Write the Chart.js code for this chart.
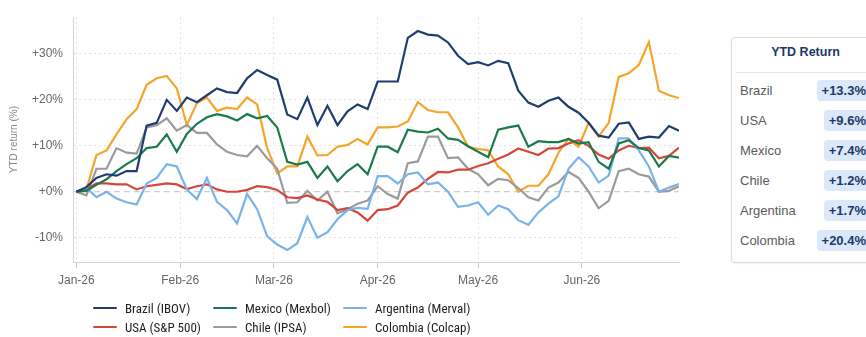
<!DOCTYPE html>
<html>
<head>
<meta charset="utf-8">
<title>LatAm equity indices YTD</title>
<script src="https://cdn.jsdelivr.net/npm/chart.js@4.4.1/dist/chart.umd.min.js"></script>
<style>
  html, body { margin: 0; padding: 0; background: #fff; }
  body {
    width: 866px; height: 337px; position: relative; overflow: hidden;
    font-family: "Liberation Sans", Arial, sans-serif;
  }
  #chartWrap { position: absolute; left: 0; top: 0; width: 700px; height: 300px; }
  #legend { position: absolute; left: 0; top: 0; }
  .lg-item {
    position: absolute; display: flex; align-items: center; white-space: nowrap;
    font-family: "Liberation Sans Narrow", "Roboto Condensed", "Liberation Sans", sans-serif;
    font-size: 13px; color: #1e1e1e; height: 18px;
  }
  .lg-swatch { width: 24px; height: 2.5px; margin-right: 8px; border-radius: 1px; }

  #ytd {
    position: absolute; left: 731px; top: 37px; width: 145px; height: 226px;
    border: 1px solid #dcdcdc; border-radius: 4px; box-sizing: border-box;
    box-shadow: 0 1px 2px rgba(0,0,0,0.06); background: #fff;
  }
  #ytd .head {
    height: 34px; line-height: 28px; text-align: center;
    font-weight: bold; font-size: 12.5px; color: #1b3a66;
    border-bottom: 1px solid #e2e2e2; margin: 0 0 0 4px;
  }
  #ytd .row {
    position: absolute; left: 8px; right: 4px; height: 21px;
    display: flex; align-items: center; justify-content: space-between;
  }
  #ytd .name { font-size: 13px; color: #5a5a5a; }
  #ytd .pill {
    background: #dbe8fa; color: #1b3a66; font-weight: bold; font-size: 13px;
    padding: 0 5px; height: 21px; line-height: 21px; border-radius: 4px;
  }
</style>
</head>
<body>
<div id="chartWrap"><canvas id="ytdChart" width="700" height="300"></canvas></div>
<div id="legend"></div>
<div id="ytd"><div class="head">YTD Return</div></div>

<script>
// x positions: days since 1 Jan 2026, sampled every 3 days
const days = [0, 3, 6, 9, 12, 15, 18, 21, 24, 27, 30, 33, 36, 39, 42, 45, 48, 51, 54, 57, 60,
  63, 66, 69, 72, 75, 78, 81, 84, 87, 90, 93, 96, 99, 102, 105, 108, 111, 114, 117, 120,
  123, 126, 129, 132, 135, 138, 141, 144, 147, 150, 153, 156, 159, 162, 165, 168, 171, 174, 177, 180];

const monthStarts = [0, 31, 59, 90, 120, 151];
const monthLabels = ['Jan-26', 'Feb-26', 'Mar-26', 'Apr-26', 'May-26', 'Jun-26'];
const yTicks = [-10, 0, 10, 20, 30];

// cumulative return in %, per index
const brazil = [0, 1, 3, 3.8, 3.5, 4.5, 4.5, 14.4, 15, 20, 17.6,
  20.5, 19.5, 21, 22.5, 21.7, 21.5, 24.7, 26.5, 25.4, 24.4,
  16.8, 15.8, 20.5, 14.5, 18.7, 14.5, 17.5, 19, 18, 24,
  24, 24, 33.5, 35, 34.2, 34, 32.5, 29.6, 27.8, 28.2,
  27.5, 28.5, 28, 22, 19.4, 18.5, 19.8, 20.5, 18.5, 17.2,
  15, 12.2, 11.8, 14.8, 15.1, 11.5, 12, 11.8, 14.3, 13.3];
const mexico = [0, 0.2, 1.5, 2.7, 4.5, 6, 7.3, 9.5, 9.8, 12.5, 8.7,
  12.6, 14.8, 16.2, 16.9, 16.4, 15.5, 16.9, 16, 16.5, 14,
  6.5, 5.9, 6.5, 3, 5.5, 2.3, 4.5, 6, 3.8, 9.8,
  9.8, 8.6, 13.5, 13.1, 12.9, 13.7, 11.6, 11.3, 9.9, 8.7,
  7.5, 13.5, 14, 14.4, 9.8, 11, 10.8, 10.8, 11.5, 10.5,
  10.8, 6.5, 5, 10.5, 11.2, 9.5, 9, 5.5, 7.8, 7.4];
const argentina = [0, 0.9, -1.2, 0, -1.5, -2.3, -2.8, 1.8, 3, 6, 5.5,
  0.5, -1.6, 3, -2.2, -4, -6.9, -0.5, -3.8, -9.7, -11.5,
  -12.7, -11.2, -5.5, -10, -8.8, -6, -4, -3.5, -3.7, 3.4,
  3.4, 1.8, 3.8, 4.2, 1.6, 2, 0, -3.3, -3, -2.3,
  -5, -3, -3.8, -6.2, -7.2, -4.5, -2.6, -1, 5, 7.5,
  5.5, 2, 3.5, 11.6, 11.6, 9, 5.5, 0, 0.9, 1.7];
const usa = [0, 0.5, 1.8, 1.8, 1.6, 1.6, 0.5, 1.2, 1.5, 1.8, 1.6,
  0.6, 1.2, 1.6, 0.5, 0, 0, 0.4, 1.2, 1, 0.4,
  -1.2, -1.4, -0.8, -1.7, -2.2, -4, -3.6, -4.5, -6.3, -4,
  -3.8, -3, -0.2, 0.9, 2.8, 4.3, 4.2, 4.8, 4.8, 5.6,
  6.2, 7.2, 8.1, 9.4, 8.7, 8, 9.4, 9.5, 10.5, 11.2,
  10, 8.1, 7.2, 9, 10, 9.5, 9.6, 7.3, 7.8, 9.6];
const chile = [0, -0.8, 5, 5, 9.5, 8.5, 8.3, 14, 14.5, 16, 13.3,
  14.5, 12.8, 12.8, 10.3, 8.7, 8, 7.7, 10, 7.3, 5,
  -2.4, -2.3, 0.2, -1.9, 0, -4.7, -3.8, -2.6, -1.9, 1.2,
  -0.5, -1.5, 6.2, 6.6, 12, 12, 7.3, 7.5, 5, 3.8,
  1.4, 2.8, 2.5, 0.8, -1.2, -1.9, 0.9, 2, 4.3, 3,
  0, -3.6, -2, 4.5, 5, 3.8, 3.3, 0, 0.2, 1.2];
const colombia = [0, 0.5, 8, 9, 12.5, 15.8, 18, 23.3, 24.7, 25.2, 22.5,
  14.5, 19.3, 20.5, 17.6, 18.3, 18, 20.5, 19, 9.5, 4,
  5.5, 5.5, 12, 7.9, 8, 9.8, 10.2, 11.5, 10.3, 14,
  14, 14.2, 15.3, 19.5, 17.8, 17.3, 17.3, 14, 9.8, 9.3,
  9, 5.5, 3.8, 0, 1.3, 1.3, 3.8, 8.5, 11.5, 9.8,
  15, 12, 15, 25, 25.8, 27.6, 32.6, 22, 21, 20.4];

const series = [
  { label: 'Brazil (IBOV)', country: 'Brazil', values: brazil, color: '#1f3d6e' },
  { label: 'Mexico (Mexbol)', country: 'Mexico', values: mexico, color: '#1b7a4b' },
  { label: 'Argentina (Merval)', country: 'Argentina', values: argentina, color: '#7ab3ea' },
  { label: 'USA (S&P 500)', country: 'USA', values: usa, color: '#d2473c' },
  { label: 'Chile (IPSA)', country: 'Chile', values: chile, color: '#9b9b9b' },
  { label: 'Colombia (Colcap)', country: 'Colombia', values: colombia, color: '#f5a52a' }
];
const tableOrder = ['Brazil', 'USA', 'Mexico', 'Chile', 'Argentina', 'Colombia'];

const fmtPct = v => (v >= 0 ? '+' : '') + v + '%';

const ctx = document.getElementById('ytdChart').getContext('2d');
const chart = new Chart(ctx, {
  type: 'line',
  data: {
    datasets: series.map(s => ({
      label: s.label,
      data: days.map((d, i) => ({ x: d, y: s.values[i] })),
      borderColor: s.color,
      backgroundColor: s.color,
      borderWidth: 2.2,
      pointRadius: 0,
      tension: 0
    }))
  },
  options: {
    responsive: false,
    animation: false,
    layout: { padding: { left: 0, top: 12, right: 21, bottom: 0 } },
    plugins: { legend: { display: false }, tooltip: { enabled: false } },
    scales: {
      x: {
        type: 'linear',
        min: -1,
        max: 180,
        afterBuildTicks: scale => { scale.ticks = monthStarts.map(v => ({ value: v })); },
        afterFit: scale => { scale.height = 38; },
        ticks: {
          callback: value => monthLabels[monthStarts.indexOf(value)],
          color: '#666',
          font: { size: 12, family: '"Liberation Sans", Arial, sans-serif' },
          padding: 5,
          maxRotation: 0
        },
        grid: { color: '#e2e2e2', tickLength: 6, tickColor: '#c8c8c8', tickWidth: 1 },
        border: { color: '#d4d4d4', dash: [2, 3] }
      },
      y: {
        min: -15.3,
        max: 38,
        afterBuildTicks: scale => { scale.ticks = yTicks.map(v => ({ value: v })); },
        afterFit: scale => { scale.width = 73; },
        ticks: {
          callback: value => (value >= 0 ? '+' : '') + value + '%',
          color: '#666',
          font: { size: 12, family: '"Liberation Sans", Arial, sans-serif' },
          padding: 10
        },
        title: {
          display: true,
          text: 'YTD return (%)',
          color: '#888',
          font: { size: 10, family: '"Liberation Sans", Arial, sans-serif' },
          padding: { top: 8, bottom: 0 }
        },
        grid: {
          drawTicks: false,
          color: c => (c.tick && c.tick.value === 0 ? '#cfcfcf' : '#e2e2e2'),
          lineWidth: c => (c.tick && c.tick.value === 0 ? 1.3 : 1)
        },
        border: {
          color: '#d4d4d4',
          dash: c => (c.tick && c.tick.value === 0 ? [6, 4] : [2, 3])
        }
      }
    }
  }
});

// legend laid out as a 3 x 2 grid under the plot
const legendCols = [93, 213, 343];
const legendRows = [299, 318];
const legendEl = document.getElementById('legend');
chart.data.datasets.forEach((ds, i) => {
  const item = document.createElement('div');
  item.className = 'lg-item';
  item.style.left = legendCols[i % 3] + 'px';
  item.style.top = legendRows[Math.floor(i / 3)] + 'px';
  item.innerHTML = '<span class="lg-swatch" style="background:' + ds.borderColor + '"></span>' + ds.label;
  legendEl.appendChild(item);
});

// YTD table: last value of each series
const ytdEl = document.getElementById('ytd');
tableOrder.forEach((name, r) => {
  const s = series.find(x => x.country === name);
  const row = document.createElement('div');
  row.className = 'row';
  row.style.top = (42 + r * 30) + 'px';
  row.innerHTML = '<span class="name">' + name + '</span><span class="pill">' + fmtPct(s.values[s.values.length - 1]) + '</span>';
  ytdEl.appendChild(row);
});
</script>
</body>
</html>
